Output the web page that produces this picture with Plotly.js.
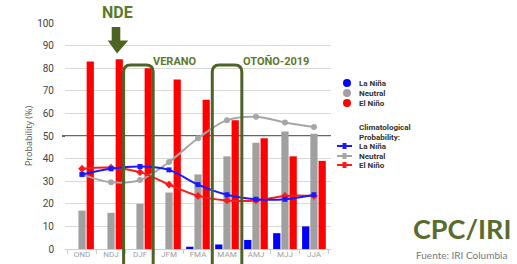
<!DOCTYPE html>
<html>
<head>
<meta charset="utf-8">
<script src="https://cdn.plot.ly/plotly-3.0.1.min.js"></script>
<style>html,body{margin:0;padding:0;background:#fff;}#chart{width:517px;height:264px;}</style>
</head>
<body>
<div id="chart"></div>
<script>
// ---- data ----
var seasons = ['OND', 'NDJ', 'DJF', 'JFM', 'FMA', 'MAM', 'AMJ', 'MJJ', 'JJA'];
var laNinaProb  = [0, 0, 0, 0, 1, 2, 4, 7, 10];
var neutralProb = [17, 16, 20, 25, 33, 41, 47, 52, 51];
var elNinoProb  = [83, 84, 80, 75, 66, 57, 49, 41, 39];
var climLaNina  = [33, 35.5, 36.5, 35, 28.5, 24, 22, 22, 24];
var climNeutral = [33, 29.5, 30.5, 38.5, 49, 57, 58.5, 56, 54];
var climElNino  = [35.5, 36, 34, 28.5, 23.5, 21.5, 21.5, 23.5, 23.5];
var yTicks = [0, 10, 20, 30, 40, 50, 60, 70, 80, 90, 100];

// ---- geometry helpers (pixel -> paper) ----
var W = 517, H = 264, L = 65, R = 186, T = 23, B = 15;
var PW = W - L - R, PH = H - T - B;
function px(x) { return (x - L) / PW; }
function py(y) { return (H - B - y) / PH; }

var olive = '#4f6228';
var oliveText = '#5b7a2c';
var condensed = '"Liberation Sans Narrow", "Roboto", "DejaVu Sans Condensed", sans-serif';

var traces = [
  {type: 'bar', name: 'La Niña', x: seasons, y: laNinaProb, marker: {color: '#0000ff'}, showlegend: false},
  {type: 'bar', name: 'Neutral', x: seasons, y: neutralProb, marker: {color: '#a0a0a0'}, showlegend: false},
  {type: 'bar', name: 'El Niño', x: seasons, y: elNinoProb, marker: {color: '#ff0000'}, showlegend: false},
  {type: 'scatter', mode: 'lines+markers', name: 'Clim. Neutral', x: seasons, y: climNeutral,
   line: {color: '#a6a6a6', width: 2, shape: 'spline', smoothing: 1}, marker: {symbol: 'circle', size: 6, color: '#a6a6a6'}, showlegend: false},
  {type: 'scatter', mode: 'lines+markers', name: 'Clim. El Niño', x: seasons, y: climElNino,
   line: {color: '#ff1a1a', width: 2, shape: 'spline', smoothing: 1}, marker: {symbol: 'diamond', size: 6, color: '#ff1a1a'}, showlegend: false},
  {type: 'scatter', mode: 'lines+markers', name: 'Clim. La Niña', x: seasons, y: climLaNina,
   line: {color: '#1a1aff', width: 2, shape: 'spline', smoothing: 1}, marker: {symbol: 'square', size: 5, color: '#1a1aff'}, showlegend: false}
];

function roundRect(x0, x1, yTop, yBot, r) {
  var rx = r / PW, ry = r / PH;
  var a = px(x0), b = px(x1), t = py(yTop), bt = py(yBot);
  return 'M' + a + ',' + bt + ' L' + a + ',' + (t - ry) + ' Q' + a + ',' + t + ' ' + (a + rx) + ',' + t +
         ' L' + (b - rx) + ',' + t + ' Q' + b + ',' + t + ' ' + b + ',' + (t - ry) + ' L' + b + ',' + bt;
}
function arrowPath() {
  var pts = [[111.7, 27], [120.3, 27], [120.3, 40.5], [128.3, 40.5], [117, 53.5], [107.7, 40.5], [111.7, 40.5]];
  return 'M' + pts.map(function (p) { return px(p[0]) + ',' + py(p[1]); }).join(' L') + ' Z';
}

var catW = PW / seasons.length;
function catEdge(i) { return L + catW * i; }

var shapes = [
  {type: 'line', xref: 'paper', yref: 'y', x0: px(62), x1: 1, y0: 50, y1: 50, line: {color: '#333333', width: 1.5}, layer: 'below'},
  {type: 'path', xref: 'paper', yref: 'paper', path: roundRect(catEdge(2) - 0.5, catEdge(3) - 0.5, 65, 266, 7), line: {color: olive, width: 3}, layer: 'above'},
  {type: 'path', xref: 'paper', yref: 'paper', path: roundRect(catEdge(5) - 0.5, catEdge(6) - 0.5, 65, 266, 7), line: {color: olive, width: 3}, layer: 'above'},
  {type: 'path', xref: 'paper', yref: 'paper', path: arrowPath(), fillcolor: '#4d6322', line: {color: '#4d6322', width: 0}, layer: 'above'}
];

var annotations = [
  {text: '<b>NDE</b>', xref: 'paper', yref: 'paper', x: px(117), y: py(13), showarrow: false,
   font: {family: condensed, size: 16, color: oliveText}, xanchor: 'center', yanchor: 'middle'},
  {text: '<b>VERANO</b>', xref: 'paper', yref: 'paper', x: px(151), y: py(61), showarrow: false,
   font: {family: condensed, size: 11, color: oliveText}, xanchor: 'left', yanchor: 'middle'},
  {text: '<b>OTOÑO-2019</b>', xref: 'paper', yref: 'paper', x: px(241), y: py(61), showarrow: false,
   font: {family: condensed, size: 11, color: oliveText}, xanchor: 'left', yanchor: 'middle'},
  {text: 'CPC/IRI', xref: 'paper', yref: 'paper', x: px(462), y: py(228), showarrow: false,
   font: {family: 'Lato, "Open Sans", sans-serif', size: 27, weight: 'bold', color: '#5a6b2e'}, xanchor: 'center', yanchor: 'middle'},
  {text: 'Fuente: IRI Columbia', xref: 'paper', yref: 'paper', x: px(461), y: py(255), showarrow: false,
   font: {family: 'Lato, "Open Sans", sans-serif', size: 10, color: '#777777'}, xanchor: 'center', yanchor: 'middle'}
];

// ---- manual legend ----
var legFont = {family: condensed, size: 8, color: '#333333'};
var barLegend = [['La Niña', '#0000ff', 83], ['Neutral', '#a0a0a0', 93], ['El Niño', '#ff0000', 103]];
barLegend.forEach(function (e) {
  shapes.push({type: 'circle', xref: 'paper', yref: 'paper', xsizemode: 'pixel', ysizemode: 'pixel',
    xanchor: px(347), yanchor: py(e[2]), x0: -4, x1: 4, y0: -4, y1: 4, fillcolor: e[1], line: {width: 0}});
  annotations.push({text: '<b>' + e[0] + '</b>', xref: 'paper', yref: 'paper', x: px(357), y: py(e[2]),
    showarrow: false, xanchor: 'left', yanchor: 'middle', font: legFont});
});
annotations.push({text: '<b>Climatological<br>Probability:</b>', xref: 'paper', yref: 'paper', x: px(357), y: py(132),
  showarrow: false, xanchor: 'left', yanchor: 'middle', align: 'left', font: legFont});
var lineLegend = [['La Niña', '#1a1aff', 146], ['Neutral', '#a6a6a6', 156], ['El Niño', '#ff1a1a', 165]];
lineLegend.forEach(function (e) {
  shapes.push({type: 'line', xref: 'paper', yref: 'paper', x0: px(337), x1: px(352), y0: py(e[2]), y1: py(e[2]),
    line: {color: e[1], width: 2}});
  shapes.push({type: 'rect', xref: 'paper', yref: 'paper', xsizemode: 'pixel', ysizemode: 'pixel',
    xanchor: px(344.5), yanchor: py(e[2]), x0: -2, x1: 2, y0: -3, y1: 3, fillcolor: e[1], line: {width: 0}});
  annotations.push({text: '<b>' + e[0] + '</b>', xref: 'paper', yref: 'paper', x: px(357), y: py(e[2]),
    showarrow: false, xanchor: 'left', yanchor: 'middle', font: legFont});
});

var layout = {
  width: W, height: H,
  margin: {l: L, r: R, t: T, b: B, pad: 0},
  paper_bgcolor: '#ffffff', plot_bgcolor: '#ffffff',
  barmode: 'group', bargap: 0.15, bargroupgap: 0.12,
  showlegend: false,
  xaxis: {
    type: 'category', showgrid: false, zeroline: false,
    showline: true, linecolor: '#cccccc', linewidth: 1,
    ticks: 'outside', tickson: 'boundaries', ticklen: 4, tickcolor: '#cccccc',
    tickangle: 0, ticklabelstandoff: -3,
    tickfont: {family: condensed, size: 8, color: '#a0a0a0'}
  },
  yaxis: {
    range: [0, 100], tickvals: yTicks, showgrid: true, gridcolor: '#d9d9d9', gridwidth: 1,
    zeroline: false, showline: false, ticks: '', ticklabelstandoff: 10,
    tickfont: {family: condensed, size: 10, color: '#444444'},
    title: {text: 'Probability (%)', standoff: 2, font: {family: '"Open Sans", sans-serif', size: 9, color: '#555555'}}
  },
  shapes: shapes,
  annotations: annotations
};

Plotly.newPlot('chart', traces, layout, {displayModeBar: false, staticPlot: true});
</script>
</body>
</html>
